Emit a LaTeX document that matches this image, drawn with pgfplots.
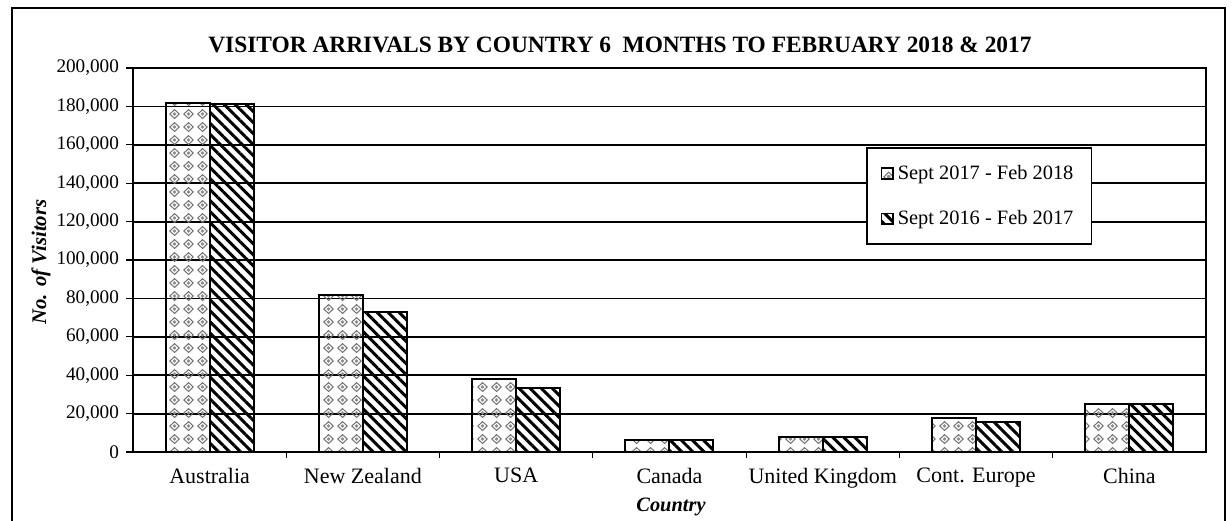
\documentclass[border=0pt]{standalone}
\usepackage{pgfplots}
\pgfplotsset{compat=1.18}
\usepackage{fontspec}
\setmainfont{Liberation Serif}
\usetikzlibrary{patterns,patterns.meta}
\tikzdeclarepattern{
  name=diamonds,
  type=colored,
  bounding box={(0pt,0pt) and (7pt,6.25pt)},
  tile size={(7pt,6.25pt)},
  code={
    \draw[black!55, line width=0.55pt] (3.5pt,0.8pt) -- (6pt,3.1pt) -- (3.5pt,5.4pt) -- (1pt,3.1pt) -- cycle;
    \fill[black!45] (3.5pt,3.1pt) circle (1pt);
  }
}
\begin{document}
\begin{tikzpicture}[x=1pt,y=1pt]
\useasboundingbox (0,0) rectangle (616,-260);
\draw[line width=1pt] (6,-262) -- (6,-4) -- (612.5,-4) -- (612.5,-262);
\begin{axis}[
  at={(66.5pt,-226pt)}, anchor=south west,
  scale only axis, width=536.5pt, height=192pt,
  ybar=0pt, bar width=22pt,
  xmin=-0.5, xmax=6.5, ymin=0, ymax=200000,
  xtick={0,...,6},
  xticklabels={Australia,New Zealand,USA,Canada,United Kingdom,Cont. Europe,China},
  minor xtick={0.5,1.5,2.5,3.5,4.5,5.5},
  ytick={0,20000,...,200000},
  tick pos=left,
  scaled y ticks=false,
  /pgf/number format/assume math mode=true,
  /pgf/number format/fixed,
  /pgf/number format/1000 sep={,},
  tick align=outside,
  major x tick style={draw=none},
  minor tick length=3pt, major tick length=3.5pt,
  tick style={black, line width=0.6pt},
  ymajorgrids, grid style={black, line width=0.9pt},
  axis line style={line width=0.9pt},
  x tick label style={font=\fontsize{11}{13}\selectfont, yshift=-1pt},
  y tick label style={font=\fontsize{9.6}{11}\selectfont},
  legend style={at={(0.683,0.794)}, anchor=north west, draw=black, line width=0.9pt,
    fill=white, inner xsep=7pt, inner ysep=6.5pt, row sep=10pt,
    font=\fontsize{10.2}{12}\selectfont},
  legend cell align=left,
  legend image code/.code={\draw[#1, line width=0.7pt] (0pt,-2.7pt) rectangle (5.8pt,2.7pt);},
]
\addplot[draw=black, line width=1pt, pattern=diamonds] coordinates
  {(0,182000) (1,82000) (2,38000) (3,6200) (4,8000) (5,17700) (6,25000)};
\addplot[draw=black, line width=1pt, pattern={Lines[angle=-45, distance=3.9pt, line width=1.5pt]}] coordinates
  {(0,181500) (1,73000) (2,33500) (3,6000) (4,8000) (5,15800) (6,25000)};
\legend{Sept 2017 - Feb 2018\hspace{3pt}, Sept 2016 - Feb 2017\hspace{3pt}}
\end{axis}
\node[font=\bfseries\fontsize{11.7}{13}\selectfont] at (310,-22.5) {VISITOR ARRIVALS BY COUNTRY 6\ \ MONTHS TO FEBRUARY 2018 \& 2017};
\node[font=\bfseries\itshape\fontsize{10.4}{12}\selectfont, rotate=90] at (20.5,-131) {No. of Visitors};
\node[font=\bfseries\itshape\fontsize{10.2}{12}\selectfont] at (335.5,-253.5) {Country};
\end{tikzpicture}
\end{document}
